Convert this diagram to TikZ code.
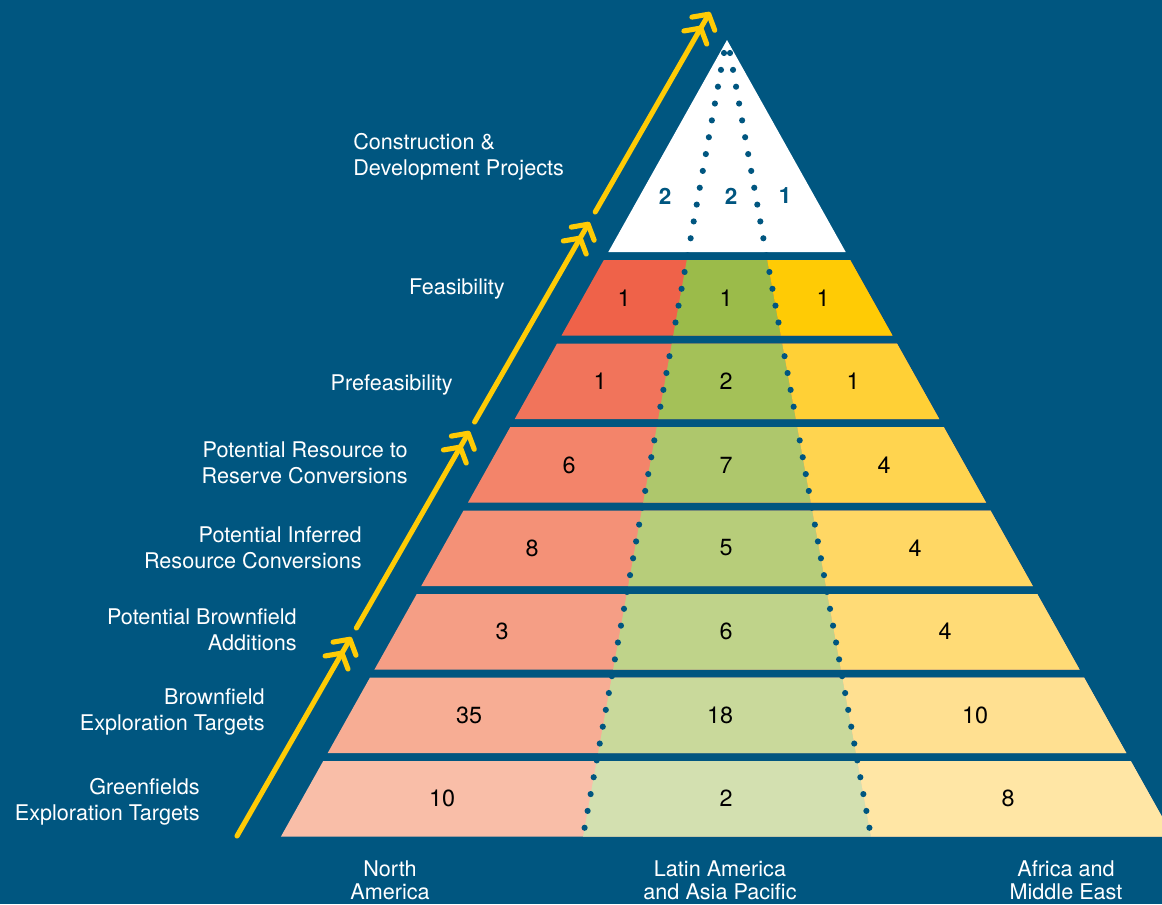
\documentclass[tikz,border=0pt]{standalone}
\usepackage{fontspec}
\setmainfont{TeX Gyre Heros}
\usetikzlibrary{arrows.meta}
\definecolor{bg}{RGB}{0,86,128}
\definecolor{arrowyellow}{RGB}{255,203,5}
\definecolor{cR1}{RGB}{239,98,73}
\definecolor{cR2}{RGB}{241,116,91}
\definecolor{cR3}{RGB}{243,132,106}
\definecolor{cR4}{RGB}{244,145,119}
\definecolor{cR5}{RGB}{245,158,133}
\definecolor{cR6}{RGB}{247,173,148}
\definecolor{cR7}{RGB}{249,190,168}
\definecolor{cG1}{RGB}{155,187,74}
\definecolor{cG2}{RGB}{164,193,88}
\definecolor{cG3}{RGB}{174,199,108}
\definecolor{cG4}{RGB}{183,205,122}
\definecolor{cG5}{RGB}{191,211,138}
\definecolor{cG6}{RGB}{201,217,155}
\definecolor{cG7}{RGB}{211,224,176}
\definecolor{cY1}{RGB}{255,203,5}
\definecolor{cY2}{RGB}{255,208,54}
\definecolor{cY3}{RGB}{255,212,79}
\definecolor{cY4}{RGB}{255,215,100}
\definecolor{cY5}{RGB}{255,219,118}
\definecolor{cY6}{RGB}{255,224,145}
\definecolor{cY7}{RGB}{255,230,165}
\tikzset{
  lab/.style={text=white, font=\fontsize{12.3}{14.7}\selectfont, inner sep=0pt, align=right},
  botlab/.style={text=white, font=\fontsize{12.3}{13.4}\selectfont, inner sep=0pt, align=center, anchor=north},
  num/.style={text=black, font=\fontsize{13.3}{15}\selectfont, inner sep=0pt},
  tnum/.style={text=bg, font=\fontsize{12.8}{15}\selectfont\bfseries, inner sep=0pt},
  dotline/.style={draw=bg, line width=3.5pt, line cap=round, dash pattern=on 0pt off 9.74pt},
  upline/.style={draw=arrowyellow, line width=2.9pt, line cap=round,
    -{Straight Barb[round,length=6.2pt,width=15pt] Straight Barb[round,length=6.2pt,width=15pt]}}
}
\begin{document}
\begin{tikzpicture}[x=0.02cm,y=-0.02cm]
\fill[bg] (0,0) rectangle (1162,904);
\useasboundingbox (0,0) rectangle (1162,904);

% top triangle
\fill[white] (727,40) -- (608.3,252) -- (845.7,252) -- cycle;

% bands
\foreach \k in {1,...,7} {
  \pgfmathsetmacro\t{260+83.5*(\k-1)}
  \pgfmathsetmacro\b{\t+75.5}
  \begin{scope}
    \clip ({727-0.56*(\t-40)},\t) -- ({727+0.56*(\t-40)},\t) -- ({727+0.56*(\b-40)},\b) -- ({727-0.56*(\b-40)},\b) -- cycle;
    \fill[fill=cR\k] (0,0) rectangle (1162,904);
    \fill[fill=cG\k] (727,36.3) -- (570.9,904) -- (883.1,904) -- cycle;
    \fill[fill=cY\k] (727,0) -- (727,36.3) -- (883.1,904) -- (1162,904) -- (1162,0) -- cycle;
  \end{scope}
}

% dotted dividers
\coordinate (dla) at (724,53);
\coordinate (dlb) at (584,831);
\coordinate (dra) at (730,53);
\coordinate (drb) at (870,831);
\draw[dotline] (dla) -- (dlb);
\draw[dotline] (dra) -- (drb);

% yellow progress arrows
\coordinate (a0) at (237,836);
\coordinate (a1) at (351.2,637);
\coordinate (b0) at (356.4,628);
\coordinate (b1) at (469.5,431);
\coordinate (c0) at (474.6,422);
\coordinate (c1) at (589.4,222);
\coordinate (d0) at (595.2,212);
\coordinate (d1) at (710,12);
\draw[upline] (a0) -- (a1);
\draw[upline] (b0) -- (b1);
\draw[upline] (c0) -- (c1);
\draw[upline] (d0) -- (d1);

% triangle numbers
\node[tnum] (t1) at (665,196) {2};
\node[tnum] (t2) at (731,196) {2};
\node[tnum] (t3) at (785,196) {1};

% band numbers
\node[num] (n11) at (624,298) {1};
\node[num] (n12) at (726,298) {1};
\node[num] (n13) at (823,298) {1};
\node[num] (n21) at (600,381) {1};
\node[num] (n22) at (726,381) {2};
\node[num] (n23) at (853,381) {1};
\node[num] (n31) at (569,465) {6};
\node[num] (n32) at (726,465) {7};
\node[num] (n33) at (884,465) {4};
\node[num] (n41) at (532,548) {8};
\node[num] (n42) at (726,548) {5};
\node[num] (n43) at (915,548) {4};
\node[num] (n51) at (502,631) {3};
\node[num] (n52) at (726,631) {6};
\node[num] (n53) at (945,631) {4};
\node[num] (n61) at (469,715) {35};
\node[num] (n62) at (720,715) {18};
\node[num] (n63) at (975,715) {10};
\node[num] (n71) at (442,798) {10};
\node[num] (n72) at (726,798) {2};
\node[num] (n73) at (1008,798) {8};

% stage labels
\node[lab, align=left, anchor=west] (l0) at (353,157) {Construction \&\\Development Projects};
\node[lab, anchor=east] (l1) at (505,289) {Feasibility};
\node[lab, anchor=east] (l2) at (453,385) {Prefeasibility};
\node[lab, anchor=east] (l3) at (408,463) {Potential Resource to\\Reserve Conversions};
\node[lab, anchor=east] (l4) at (362,548) {Potential Inferred\\Resource Conversions};
\node[lab, anchor=east] (l5) at (297,630) {Potential Brownfield\\Additions};
\node[lab, anchor=east] (l6) at (265,712) {Brownfield\\Exploration Targets};
\node[lab, anchor=east] (l7) at (200,802) {Greenfields\\Exploration Targets};

% region labels
\node[botlab] (r1) at (390,860) {North\\America};
\node[botlab] (r2) at (720,860) {Latin America\\and Asia Pacific};
\node[botlab] (r3) at (1066,860) {Africa and\\Middle East};
\end{tikzpicture}
\end{document}
